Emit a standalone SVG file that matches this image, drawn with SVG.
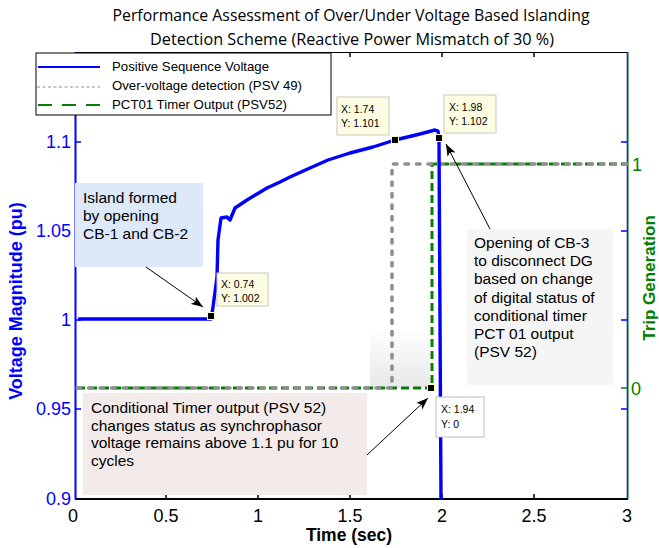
<svg xmlns="http://www.w3.org/2000/svg" width="659" height="548" viewBox="0 0 659 548">
<style>
.t{font-family:"Liberation Sans",Arial,sans-serif}
.ttl{font-family:"Open Sans","Noto Sans",sans-serif;font-size:16px;fill:#000;text-anchor:middle}
.tickb{font-size:18px;fill:#0000ff;text-anchor:end}
.tickx{font-size:18px;fill:#000;text-anchor:middle}
.tickg{font-size:18px;fill:#008000}
.ann{font-size:15.5px;fill:#000}
.dt{font-size:10.5px;fill:#000}
.leg{font-size:13px;fill:#000}
.dtbox{fill:#fdfde3;stroke:#c8c8b8;stroke-width:1}
.mk{fill:#000;stroke:#fdfdc8;stroke-width:1}
.blue{fill:none;stroke:#0000ff;stroke-width:3.4;stroke-linejoin:round}
.grey{fill:none;stroke:#8f8f8f;stroke-width:3.6;stroke-dasharray:3.5 8;stroke-linecap:round}
.green{fill:none;stroke:#087d08;stroke-width:3;stroke-dasharray:8 4}
.arr{fill:none;stroke:#000;stroke-width:1;marker-end:url(#ah)}
</style>
<defs>
<marker id="ah" markerWidth="14" markerHeight="10" refX="12" refY="5" orient="auto" markerUnits="userSpaceOnUse">
<path d="M0,0.5 L12,5 L0,9.5 L3,5 Z" fill="#000"/>
</marker>
<linearGradient id="gg" x1="0" y1="0" x2="0" y2="1">
<stop offset="0" stop-color="#ffffff"/>
<stop offset="1" stop-color="#e8e8e8"/>
</linearGradient>
</defs>
<rect width="659" height="548" fill="#fff"/>

<g id="title">
<text class="ttl" x="351" y="21" textLength="477" lengthAdjust="spacingAndGlyphs">Performance Assessment of Over/Under Voltage Based Islanding</text>
<text class="ttl" x="352" y="45" textLength="404" lengthAdjust="spacingAndGlyphs">Detection Scheme (Reactive Power Mismatch of 30 %)</text>
</g>

<g id="axes">
<line x1="75" y1="52.5" x2="628" y2="52.5" stroke="#000" stroke-width="1"/>
<line x1="75" y1="499" x2="628" y2="499" stroke="#000" stroke-width="2"/>
<line x1="75.5" y1="52" x2="75.5" y2="499" stroke="#0000ff" stroke-width="2"/>
<line x1="627.3" y1="52" x2="627.3" y2="499" stroke="#0000ff" stroke-width="1.2"/>
<line x1="628.2" y1="52" x2="628.2" y2="499" stroke="#008000" stroke-width="0.8"/>
<g stroke="#000" stroke-width="1.5">
<line x1="166" y1="499" x2="166" y2="494"/><line x1="258" y1="499" x2="258" y2="494"/>
<line x1="350" y1="499" x2="350" y2="494"/><line x1="442" y1="499" x2="442" y2="494"/>
<line x1="534" y1="499" x2="534" y2="494"/>
<line x1="350" y1="52" x2="350" y2="57"/><line x1="442" y1="52" x2="442" y2="57"/>
<line x1="534" y1="52" x2="534" y2="57"/>
</g>
<g stroke="#0000ff" stroke-width="1.5">
<line x1="75" y1="142" x2="81" y2="142"/><line x1="75" y1="231" x2="81" y2="231"/>
<line x1="75" y1="320" x2="81" y2="320"/><line x1="75" y1="409" x2="81" y2="409"/>
<line x1="621" y1="142" x2="627" y2="142"/><line x1="621" y1="231" x2="627" y2="231"/>
<line x1="621" y1="320" x2="627" y2="320"/><line x1="621" y1="409" x2="627" y2="409"/>
</g>
<g stroke="#008000" stroke-width="1.5">
<line x1="621" y1="164" x2="628" y2="164"/><line x1="621" y1="388" x2="628" y2="388"/>
</g>
<g class="t">
<text class="tickb" x="71" y="148">1.1</text>
<text class="tickb" x="71" y="237">1.05</text>
<text class="tickb" x="71" y="326">1</text>
<text class="tickb" x="71" y="415">0.95</text>
<text class="tickb" x="71" y="505">0.9</text>
<text class="tickx" x="73" y="522">0</text>
<text class="tickx" x="166" y="522">0.5</text>
<text class="tickx" x="258" y="522">1</text>
<text class="tickx" x="350" y="522">1.5</text>
<text class="tickx" x="442" y="522">2</text>
<text class="tickx" x="534" y="522">2.5</text>
<text class="tickx" x="627" y="522">3</text>
<text class="tickg" x="632" y="171">1</text>
<text class="tickg" x="631" y="395">0</text>
<text x="349" y="541" font-size="17.5" font-weight="bold" text-anchor="middle" fill="#000">Time (sec)</text>
<text transform="translate(22,301) rotate(-90)" font-size="18" font-weight="bold" text-anchor="middle" fill="#0000ff">Voltage Magnitude (pu)</text>
<text transform="translate(655,278) rotate(-90)" font-size="17" font-weight="bold" text-anchor="middle" fill="#008000">Trip Generation</text>
</g>
</g>

<g id="note-island">
<rect x="75" y="183" width="128" height="84" fill="#dde9f8"/>
<text class="t ann" x="83" y="203">Island formed</text>
<text class="t ann" x="83" y="221">by opening</text>
<text class="t ann" x="83" y="239">CB-1 and CB-2</text>
</g>
<g id="note-cb3">
<rect x="467" y="229" width="146" height="156" fill="#f5f5f5"/>
<text class="t ann" x="474" y="248">Opening of CB-3</text>
<text class="t ann" x="474" y="266">to disconnect DG</text>
<text class="t ann" x="474" y="284">based on change</text>
<text class="t ann" x="474" y="303">of digital status of</text>
<text class="t ann" x="474" y="321">conditional timer</text>
<text class="t ann" x="474" y="339">PCT 01 output</text>
<text class="t ann" x="474" y="357">(PSV 52)</text>
</g>
<g id="note-timer">
<rect x="83" y="393" width="284" height="102" fill="#f3eaea"/>
<text class="t ann" x="91" y="413">Conditional Timer output (PSV 52)</text>
<text class="t ann" x="91" y="431">changes status as synchrophasor</text>
<text class="t ann" x="91" y="448">voltage remains above 1.1 pu for 10</text>
<text class="t ann" x="91" y="466">cycles</text>
</g>
<rect id="shade" x="370" y="328" width="60" height="60" fill="url(#gg)"/>

<g id="series">
<path class="green" d="M77,388 H432 V164 H627"/>
<path class="grey" d="M77,388 H392 V164 H627"/>
<path class="blue" d="M78,319 L211,319 L213,307 L217,277 L218,240 L221,218 L227,217 L230,220 L235,208 L247,200 L257,194 L267,188 L280,182 L290,177 L310,168 L328,160 L350,153 L373,147 L395,140 L420,134 L435,130 L438,131 L439,140 L441,499"/>
</g>

<g id="datatip-1">
<rect class="dtbox" x="217" y="273" width="51" height="33"/>
<text class="t dt" x="221" y="288">X: 0.74</text>
<text class="t dt" x="221" y="302">Y: 1.002</text>
<rect class="mk" x="207.5" y="312.5" width="7" height="7"/>
</g>
<g id="datatip-2">
<rect class="dtbox" x="337" y="97" width="52" height="38"/>
<text class="t dt" x="341" y="113">X: 1.74</text>
<text class="t dt" x="341" y="127">Y: 1.101</text>
<rect class="mk" x="391.5" y="136.5" width="7" height="7"/>
</g>
<g id="datatip-3">
<rect class="dtbox" x="444" y="95" width="52" height="38"/>
<text class="t dt" x="449" y="111">X: 1.98</text>
<text class="t dt" x="449" y="125">Y: 1.102</text>
<rect class="mk" x="435.5" y="134.5" width="7" height="7"/>
</g>
<g id="datatip-4">
<rect x="436" y="397" width="48" height="40" fill="#fff" stroke="#bdbdbd" stroke-width="1"/>
<text class="t dt" x="441" y="413">X: 1.94</text>
<text class="t dt" x="441" y="428">Y: 0</text>
<rect class="mk" x="427.5" y="384.5" width="7" height="7"/>
</g>

<g id="legend">
<rect x="36" y="53" width="295" height="62" fill="#fff" stroke="#000" stroke-width="1"/>
<line x1="38" y1="67" x2="100" y2="67" stroke="#0000ff" stroke-width="2"/>
<line x1="37" y1="87" x2="100" y2="87" stroke="#8f8f8f" stroke-width="1.2" stroke-dasharray="3 2.5"/>
<line x1="38" y1="105" x2="100" y2="105" stroke="#087d08" stroke-width="2" stroke-dasharray="14 10"/>
<text class="t leg" x="112" y="71" textLength="157" lengthAdjust="spacingAndGlyphs">Positive Sequence Voltage</text>
<text class="t leg" x="112" y="90" textLength="190" lengthAdjust="spacingAndGlyphs">Over-voltage detection (PSV 49)</text>
<text class="t leg" x="112" y="109" textLength="175" lengthAdjust="spacingAndGlyphs">PCT01 Timer Output (PSV52)</text>
</g>

<g id="connectors">
<line class="arr" x1="146" y1="267" x2="203" y2="307"/>
<line class="arr" x1="490" y1="229" x2="446" y2="144"/>
<line class="arr" x1="367" y1="455" x2="428" y2="398"/>
</g>
</svg>
